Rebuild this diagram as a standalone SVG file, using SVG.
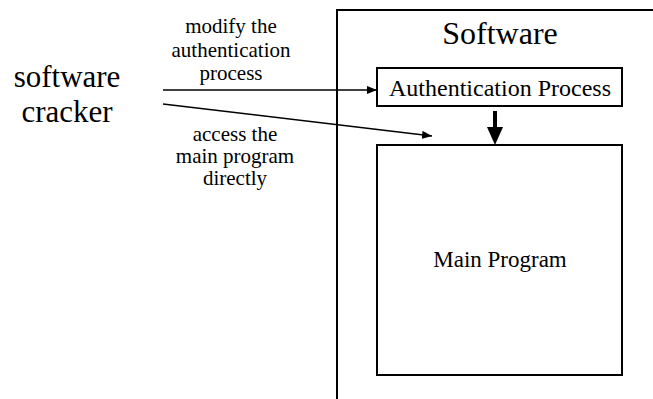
<svg xmlns="http://www.w3.org/2000/svg" width="653" height="399" viewBox="0 0 653 399">
<style>
text{font-family:"Liberation Serif","Times New Roman",serif;fill:#000;text-anchor:middle}
.box{fill:#fff;stroke:#000;stroke-width:2}
.thin{stroke:#000;stroke-width:1.5;fill:none}
</style>
<defs>
<marker id="ah" viewBox="0 0 10 8" refX="10" refY="4" markerWidth="10" markerHeight="8" markerUnits="userSpaceOnUse" orient="auto">
<path d="M0,0 L10,4 L0,8 Z" fill="#000"/>
</marker>
</defs>
<rect width="653" height="399" fill="#fff"/>
<g id="software">
<path d="M337,399 V10 H653" class="box" fill="none"/>
<text x="500" y="44" font-size="32">Software</text>
</g>
<g id="auth">
<rect x="377" y="68" width="245" height="38" class="box"/>
<text x="500" y="96" font-size="24">Authentication Process</text>
</g>
<g id="main">
<rect x="377" y="145" width="245" height="230" class="box"/>
<text x="500" y="267" font-size="23">Main Program</text>
</g>
<g id="cracker">
<text x="67" y="87" font-size="31">software</text>
<text x="67" y="122" font-size="31">cracker</text>
</g>
<g id="connectors">
<line x1="163" y1="90" x2="377" y2="90" class="thin" marker-end="url(#ah)"/>
<line x1="163" y1="104" x2="432" y2="136" class="thin" marker-end="url(#ah)"/>
<line x1="495" y1="111" x2="495" y2="128" stroke="#000" stroke-width="4"/>
<path d="M487,127 L503,127 L495,145 Z" fill="#000"/>
<text x="231" y="33" font-size="21">modify the</text>
<text x="231" y="57" font-size="21">authentication</text>
<text x="231" y="80" font-size="21">process</text>
<text x="235" y="141" font-size="21">access the</text>
<text x="235" y="163" font-size="21">main program</text>
<text x="235" y="185" font-size="21">directly</text>
</g>
</svg>
